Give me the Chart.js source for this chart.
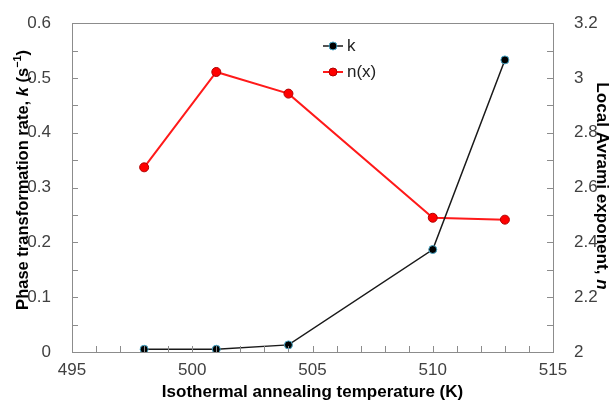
<!DOCTYPE html>
<html>
<head>
<meta charset="utf-8">
<script src="https://cdn.jsdelivr.net/npm/chart.js@4.4.0/dist/chart.umd.min.js"></script>
<style>
  html, body { margin: 0; padding: 0; background: #fff; }
  #wrap { width: 611px; height: 403px; }
</style>
</head>
<body>
<div id="wrap"><canvas id="myChart" width="611" height="403"></canvas></div>
<script>
// temperatures (K) and the two series
const temps = [498, 501, 504, 510, 513];
const kValues = [0.005, 0.005, 0.013, 0.187, 0.533];
const nValues = [2.674, 3.022, 2.943, 2.49, 2.483];

const xTickLabels = ['495', '500', '505', '510', '515'];
const kTickLabels = ['0', '0.1', '0.2', '0.3', '0.4', '0.5', '0.6'];
const nTickLabels = ['2', '2.2', '2.4', '2.6', '2.8', '3', '3.2'];

const fontFamily = '"Liberation Sans", Arial, sans-serif';
const tickColor = '#404040';
const frameColor = '#8c8c8c';

function toPoints(xs, ys) {
  return xs.map((x, i) => ({ x: x, y: ys[i] }));
}

// draws a row of text pieces (plain / italic / superscript) centred on 0,0,
// sized so the whole row is about `target` px long
function drawRuns(ctx, runs, target) {
  const font = (r, s) => (r.italic ? 'italic ' : '') + 'bold ' + (r.sup ? s * 0.65 : s).toFixed(1) + 'px ' + fontFamily;
  const measure = (s) => {
    let w = 0;
    runs.forEach((r) => {
      ctx.font = font(r, s);
      w += ctx.measureText(r.text).width;
    });
    return w;
  };
  const size = 17 * target / measure(17);
  let x = -measure(size) / 2;
  runs.forEach((r) => {
    ctx.font = font(r, size);
    ctx.fillText(r.text, x, r.sup ? -size * 0.42 : 0);
    x += ctx.measureText(r.text).width;
  });
}

const decorPlugin = {
  id: 'decor',
  afterDraw(chart) {
    const ctx = chart.ctx;
    const area = chart.chartArea;
    const xs = chart.scales.x;
    const ys = chart.scales.y;
    const ys2 = chart.scales.y2;

    ctx.save();
    // frame
    ctx.strokeStyle = frameColor;
    ctx.lineWidth = 1;
    ctx.strokeRect(Math.round(area.left) + 0.5, Math.round(area.top) + 0.5,
      Math.round(area.right - area.left), Math.round(area.bottom - area.top));

    // inside ticks
    const len = 6;
    ctx.beginPath();
    for (let v = 496; v < 515; v++) {
      const px = Math.round(xs.getPixelForValue(v)) + 0.5;
      ctx.moveTo(px, area.bottom);
      ctx.lineTo(px, area.bottom - len);
    }
    for (let i = 1; i < 12; i++) {
      const py = Math.round(ys.getPixelForValue(i * 0.05)) + 0.5;
      ctx.moveTo(area.left, py);
      ctx.lineTo(area.left + len, py);
    }
    for (let i = 1; i < 12; i++) {
      const py = Math.round(ys2.getPixelForValue(2 + i * 0.1)) + 0.5;
      ctx.moveTo(area.right, py);
      ctx.lineTo(area.right - len, py);
    }
    ctx.stroke();

    // legend inside the plot
    chart.data.datasets.forEach((ds, i) => {
      const y = 46 + i * 26;
      ctx.strokeStyle = ds.borderColor;
      ctx.lineWidth = ds.borderWidth;
      ctx.beginPath();
      ctx.moveTo(323, y);
      ctx.lineTo(343, y);
      ctx.stroke();
      ctx.beginPath();
      ctx.arc(333, y, 4, 0, Math.PI * 2);
      ctx.fillStyle = ds.pointBackgroundColor;
      ctx.fill();
      ctx.strokeStyle = ds.pointBorderColor;
      ctx.lineWidth = 1;
      ctx.stroke();
      ctx.fillStyle = '#222';
      ctx.font = '17px ' + fontFamily;
      ctx.textBaseline = 'middle';
      ctx.fillText(ds.label, 347, y);
    });

    // axis titles
    ctx.fillStyle = '#000';
    ctx.textBaseline = 'alphabetic';

    ctx.save();
    ctx.translate((area.left + area.right) / 2, 397);
    drawRuns(ctx, [{ text: 'Isothermal annealing temperature (K)' }], 301);
    ctx.restore();

    ctx.save();
    ctx.translate(28, 180);
    ctx.rotate(-Math.PI / 2);
    drawRuns(ctx, [
      { text: 'Phase transformation rate, ' },
      { text: 'k', italic: true },
      { text: ' (s' },
      { text: '\u22121', sup: true },
      { text: ')' }
    ], 260);
    ctx.restore();

    ctx.save();
    ctx.translate(597, 186);
    ctx.rotate(Math.PI / 2);
    drawRuns(ctx, [
      { text: 'Local Avrami exponent, ' },
      { text: 'n', italic: true }
    ], 207);
    ctx.restore();

    ctx.restore();
  }
};

const tickFont = { family: fontFamily, size: 17 };

const data = {
  datasets: [{
    label: 'k',
    data: toPoints(temps, kValues),
    yAxisID: 'y',
    borderColor: '#1a1a1a',
    borderWidth: 1.5,
    pointBackgroundColor: '#000000',
    pointBorderColor: '#4aa8c8',
    pointBorderWidth: 1,
    pointRadius: 4,
    tension: 0
  }, {
    label: 'n(x)',
    data: toPoints(temps, nValues),
    yAxisID: 'y2',
    borderColor: '#ff1a1a',
    borderWidth: 2,
    pointBackgroundColor: '#ff0000',
    pointBorderColor: '#b00000',
    pointBorderWidth: 1,
    pointRadius: 4.5,
    tension: 0
  }]
};

const options = {
  responsive: false,
  animation: false,
  layout: { padding: { top: 22, left: 0, right: 0, bottom: 0 } },
  plugins: {
    legend: { display: false },
    tooltip: { enabled: false }
  },
  scales: {
    x: {
      type: 'linear',
      min: 495,
      max: 515,
      grid: { display: false },
      border: { display: false },
      ticks: {
        stepSize: 5,
        padding: 0,
        color: tickColor,
        font: tickFont,
        callback: (v, i) => xTickLabels[i]
      },
      afterFit: (scale) => { scale.height = 51; }
    },
    y: {
      position: 'left',
      min: 0,
      max: 0.6,
      grid: { display: false },
      border: { display: false },
      ticks: {
        stepSize: 0.1,
        padding: 13,
        color: tickColor,
        font: tickFont,
        callback: (v, i) => kTickLabels[i]
      },
      afterFit: (scale) => { scale.width = 72; }
    },
    y2: {
      position: 'right',
      min: 2,
      max: 3.2,
      grid: { display: false },
      border: { display: false },
      ticks: {
        stepSize: 0.2,
        padding: 13,
        color: tickColor,
        font: tickFont,
        callback: (v, i) => nTickLabels[i]
      },
      afterFit: (scale) => { scale.width = 58; }
    }
  }
};

const myChart = new Chart(document.getElementById('myChart').getContext('2d'), {
  type: 'line',
  data: data,
  options: options,
  plugins: [decorPlugin]
});
</script>
</body>
</html>
